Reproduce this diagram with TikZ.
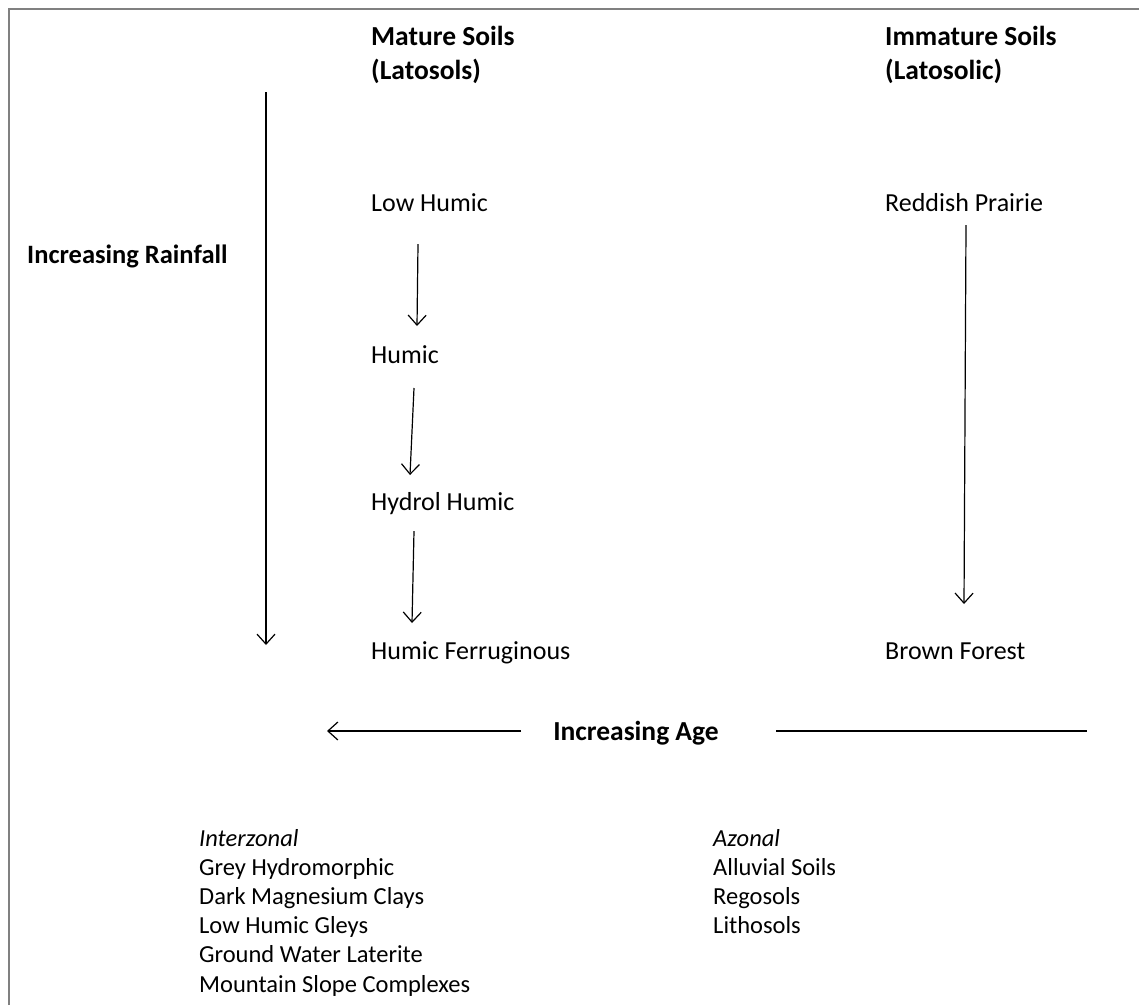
\documentclass[tikz,border=0pt]{standalone}
\usepackage{fontspec}
\setmainfont{Carlito}
\usetikzlibrary{arrows.meta}
\def\LeftCol{371}
\def\RightCol{885}
\def\ListLeft{199}
\def\ListRight{713}
\def\RowGap{29.2}
\tikzset{
  soil/.style={anchor=base west, inner sep=0pt, font=\fontsize{26}{30}\selectfont},
  head/.style={soil, font=\fontsize{27.5}{34}\selectfont\bfseries, align=left},
  item/.style={soil, font=\fontsize{24.5}{29}\selectfont},
  group/.style={soil, font=\fontsize{24.5}{29}\selectfont\itshape},
  trend/.style={line width=1.2pt, -{Straight Barb[length=10pt,width=18pt,line width=1.2pt]}},
}

\begin{document}
\begin{tikzpicture}[x=1pt,y=-1pt]
  \useasboundingbox (0,0) rectangle (1139,1005);
  % frame
  \draw [gray, line width=2.2pt] (9,1005) -- (9,9) -- (1139,9);
  % headings (base anchor sits on the last line)
  \node [head] (mature) at (\LeftCol,79) {Mature Soils\\(Latosols)};
  \node [head] (immature) at (\RightCol,79) {Immature Soils\\(Latosolic)};
  % mature sequence
  \node [soil] (lowhumic) at (\LeftCol,211) {Low Humic};
  \node [soil] (humic) at (\LeftCol,363) {Humic};
  \node [soil] (hydrol) at (\LeftCol,510) {Hydrol Humic};
  \node [soil] (ferrug) at (\LeftCol,659) {Humic Ferruginous};
  % immature sequence
  \node [soil] (prairie) at (\RightCol,211) {Reddish Prairie};
  \node [soil] (forest) at (\RightCol,659) {Brown Forest};
  % trends
  \node [soil, font=\fontsize{26.5}{30}\selectfont\bfseries] (rain) at (27,263) {Increasing Rainfall};
  \node [soil, anchor=base, font=\fontsize{27.5}{30}\selectfont\bfseries] (age) at (636,740) {Increasing Age};
  \coordinate (R1) at (266,92);
  \coordinate (R2) at (266,645);
  \coordinate (A1) at (521,731);
  \coordinate (A2) at (327,731);
  \coordinate (A3) at (776,731);
  \coordinate (A4) at (1087,731);
  \draw [trend] (R1) -- (R2);
  \draw [trend] (A1) -- (A2);
  \draw [line width=1.2pt] (A3) -- (A4);
  % arrows between soils
  \coordinate (S1) at (418,244);
  \coordinate (E1) at (417,326);
  \coordinate (S2) at (414,388);
  \coordinate (E2) at (410,475);
  \coordinate (S3) at (414,531);
  \coordinate (E3) at (412,623);
  \coordinate (S4) at (966,225);
  \coordinate (E4) at (964,604);
  \foreach \i in {1,2,3,4}
    {
      \draw [trend] (S\i) -- (E\i);
    }
  % interzonal and azonal soils
  \node [group] (inter) at (\ListLeft,846) {Interzonal};
  \foreach \name [count=\k] in {Grey Hydromorphic, Dark Magnesium Clays, Low Humic Gleys, Ground Water Laterite, Mountain Slope Complexes}
    {
      \node [item] (inter\k) at (\ListLeft,846+\k*\RowGap) {\name};
    }
  \node [group] (azonal) at (\ListRight,846) {Azonal};
  \foreach \name [count=\k] in {Alluvial Soils, Regosols, Lithosols}
    {
      \node [item] (azonal\k) at (\ListRight,846+\k*\RowGap) {\name};
    }
\end{tikzpicture}
\end{document}
